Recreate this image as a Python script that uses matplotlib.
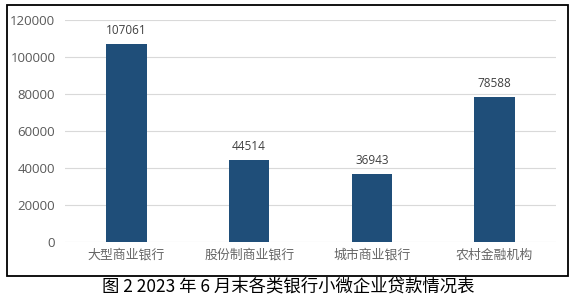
import matplotlib.pyplot as plt
from matplotlib.patches import Rectangle

plt.rcParams['font.family'] = ['Noto Sans CJK SC', 'DejaVu Sans']

categories = ['大型商业银行', '股份制商业银行', '城市商业银行', '农村金融机构']
values = [107061, 44514, 36943, 78588]
yticks = [0, 20000, 40000, 60000, 80000, 100000, 120000]
title = '图 2 2023 年 6 月末各类银行小微企业贷款情况表'

fig = plt.figure(figsize=(5.76, 2.97), dpi=100)
fig.patches.append(Rectangle((0.012, 0.071), 0.974, 0.912, transform=fig.transFigure,
                             fill=False, edgecolor='black', linewidth=1.3))

ax = fig.add_axes([0.113, 0.185, 0.852, 0.748])
x = range(len(categories))
bars = ax.bar(x, values, width=0.33, color='#1f4e79', zorder=3)
for b, v in zip(bars, values):
    ax.text(b.get_x() + b.get_width() / 2, v + 3500, str(v), ha='center', va='bottom',
            fontsize=8.5, color='#404040', family=['Open Sans', 'DejaVu Sans'])

ax.set_xlim(-0.5, len(categories) - 0.5)
ax.set_ylim(0, 120000)
ax.set_yticks(yticks)
ax.set_yticklabels([str(t) for t in yticks], family=['Open Sans', 'DejaVu Sans'])
ax.set_xticks(list(x))
ax.set_xticklabels(categories, fontsize=9.3, color='#666666')
ax.tick_params(axis='y', length=0, pad=7, labelsize=9.5, labelcolor='#595959')
ax.tick_params(axis='x', length=0, pad=5)
ax.grid(axis='y', color='#d9d9d9', linewidth=0.8, zorder=0)
for s in ax.spines.values():
    s.set_visible(False)

fig.text(0.5, 0.037, title, ha='center', va='center', fontsize=12.5, fontweight='medium', color='black')

fig.savefig('out.png', dpi=100)
